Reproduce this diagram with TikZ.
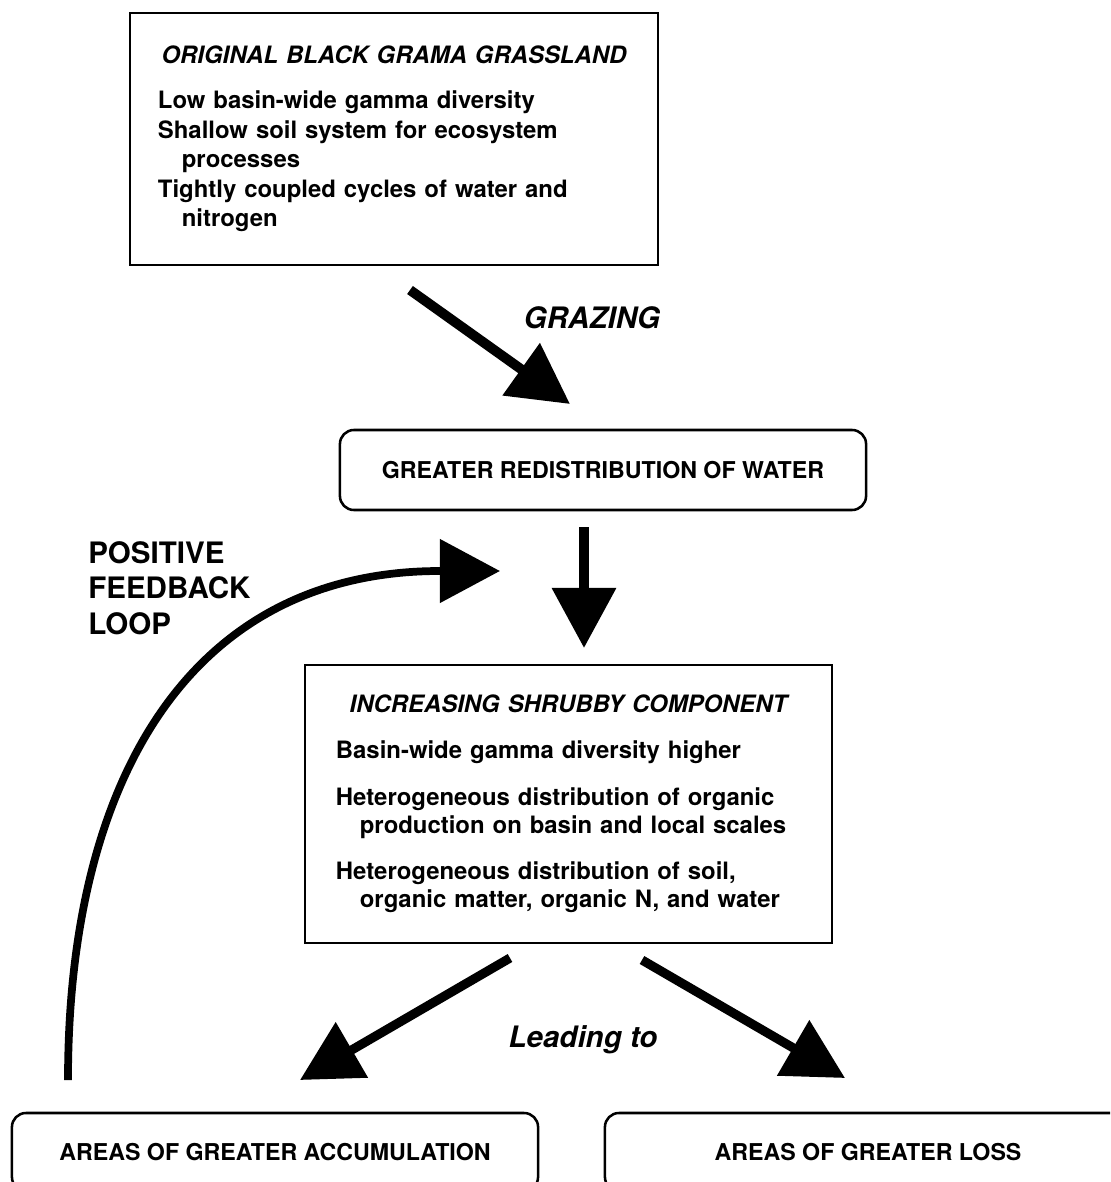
\documentclass[tikz,border=0pt]{standalone}
\usepackage{fontspec}
\setmainfont{TeX Gyre Heros}
\usepackage{tikz}
\usetikzlibrary{arrows.meta,positioning}
\tikzset{
  textbox/.style={rectangle, draw=black, line width=1.8pt, fill=white,
                  align=left, font=\bfseries\fontsize{17}{20}\selectfont,
                  inner xsep=0.7cm},
  roundbox/.style={rectangle, rounded corners=3.5mm, draw=black, line width=1.8pt,
                   align=center, font=\bfseries\fontsize{16.5}{20}\selectfont,
                   minimum width=13.15cm, minimum height=2cm},
  bigarr/.style={-{Triangle[length=1.5cm, width=1.55cm]}, line width=7pt},
  lbl/.style={font=\bfseries\itshape\fontsize{21}{25}\selectfont, inner sep=0pt},
}

\begin{document}
\begin{tikzpicture}[x=0.025cm, y=-0.025cm]
  \clip (0,0) rectangle (1110,1182);
  % boxes
  \node[textbox, font=\bfseries\fontsize{17}{21}\selectfont, text width=11.8cm,
        minimum height=6.3cm] (grassland) at (394,139)
       {\makebox[11.8cm][c]{\itshape ORIGINAL BLACK GRAMA GRASSLAND}\\[11pt]
        Low basin-wide gamma diversity\\
        Shallow soil system for ecosystem\\
        \hspace*{1em}processes\\
        Tightly coupled cycles of water and\\
        \hspace*{1em}nitrogen};
  \node[roundbox] (redist) at (603,470) {GREATER REDISTRIBUTION OF WATER};
  \node[textbox, text width=11.625cm, inner xsep=0.775cm, minimum height=6.95cm]
       (shrubby) at (568.5,804)
       {\makebox[11.625cm][c]{\itshape INCREASING SHRUBBY COMPONENT}\\[13pt]
        Basin-wide gamma diversity higher\\[13pt]
        Heterogeneous distribution of organic\\
        \hspace*{1em}production on basin and local scales\\[13pt]
        Heterogeneous distribution of soil,\\
        \hspace*{1em}organic matter, organic N, and water};
  \node[roundbox, minimum height=1.95cm] (accum) at (275,1152) {AREAS OF GREATER ACCUMULATION};
  \node[roundbox, minimum height=1.95cm] (loss) at (868,1152) {AREAS OF GREATER LOSS};

  % labels
  \node[lbl] (grazing) at (592,318) {GRAZING};
  \node[lbl] (leading) at (583,1040) {Leading to};
  \node[font=\bfseries\fontsize{21}{25.2}\selectfont, align=left, anchor=north west,
        inner sep=0pt] (loop) at (88,541) {POSITIVE\\FEEDBACK\\LOOP};

  % arrows
  \coordinate (graze-s) at (410,290);
  \coordinate (graze-e) at (570,404);
  \coordinate (down-s) at (584,527);
  \coordinate (down-e) at (584,648);
  \coordinate (left-s) at (510,958);
  \coordinate (left-e) at (300,1080);
  \coordinate (right-s) at (642,960);
  \coordinate (right-e) at (845,1078);
  \coordinate (loop-s) at (68,1080);
  \coordinate (loop-m) at (440,571);
  \coordinate (loop-e) at (500,571);
  \draw[bigarr] (graze-s) -- (graze-e);
  \draw[bigarr] (down-s) -- (down-e);
  \draw[bigarr, line width=6.5pt] (left-s) -- (left-e);
  \draw[bigarr, line width=6.5pt] (right-s) -- (right-e);
  \draw[bigarr, line width=5.5pt] (loop-s) .. controls (68,780) and (190,571) .. (loop-m) -- (loop-e);
\end{tikzpicture}
\end{document}
